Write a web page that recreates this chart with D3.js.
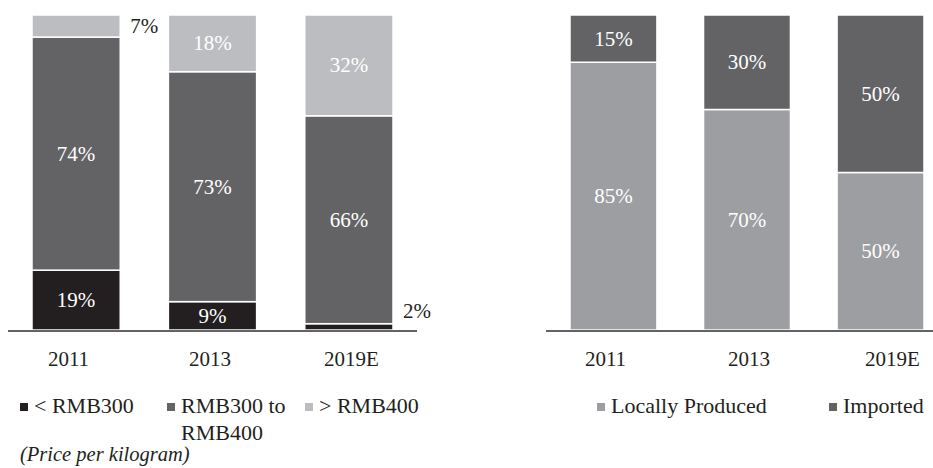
<!DOCTYPE html>
<html>
<head>
<meta charset="utf-8">
<script src="https://cdn.jsdelivr.net/npm/d3@7"></script>
<style>
	body { margin: 0; background: #ffffff; }
</style>
</head>
<body>
<svg id="chart" width="933" height="468"></svg>
<script>
// Left chart: price segments
var years = ["2011", "2013", "2019E"];
var priceKeys = ["< RMB300", "RMB300 to RMB400", "> RMB400"];
var priceLow = [19, 9, 2];
var priceMid = [74, 73, 66];
var priceHigh = [7, 18, 32];

// Right chart: origin
var originKeys = ["Locally Produced", "Imported"];
var originLocal = [85, 70, 50];
var originImported = [15, 30, 50];

var FONT = "'Liberation Serif', 'Times New Roman', serif";
var svg = d3.select("#chart");

function drawStack(opts) {
	var rows = years.map(function(yr, i) {
		var r = { year: yr };
		opts.keys.forEach(function(k, j) { r[k] = opts.values[j][i]; });
		return r;
	});
	var series = d3.stack().keys(opts.keys)(rows);

	var x = d3.scaleBand().domain(years).range(opts.xRange).paddingInner(opts.pad).paddingOuter(0);
	var y = d3.scaleLinear().domain([0, 100]).range([330, 15]);
	// category labels sit a little wider apart than the bars
	var xl = d3.scalePoint().domain(years).range(opts.labelRange);

	var g = svg.append("g");

	var layer = g.selectAll("g.layer")
		.data(series)
		.enter().append("g")
		.attr("fill", function(d, i) { return opts.colors[i]; });

	layer.selectAll("rect")
		.data(function(d) { return d; })
		.enter().append("rect")
		.attr("x", function(d) { return x(d.data.year); })
		.attr("width", x.bandwidth())
		.attr("y", function(d) { return y(d[1]); })
		.attr("height", function(d) { return y(d[0]) - y(d[1]); })
		.attr("stroke", "#ffffff")
		.attr("stroke-width", 1.5);

	// value labels, tiny ones go beside the bar
	series.forEach(function(s, i) {
		s.forEach(function(d) {
			var v = d[1] - d[0];
			var lbl = g.append("text")
				.style("font-family", FONT)
				.style("font-size", "21px")
				.text(v + "%");
			if (v < 8) {
				var top = i == opts.keys.length - 1;
				lbl.attr("x", x(d.data.year) + x.bandwidth() + 10)
					.attr("y", top ? y(d[1]) + 18 : y(d[1]) - 6)
					.attr("fill", "#231f20");
			} else {
				lbl.attr("x", x(d.data.year) + x.bandwidth() / 2)
					.attr("y", (y(d[0]) + y(d[1])) / 2 + 7)
					.attr("text-anchor", "middle")
					.attr("fill", "#ffffff");
			}
		});
	});

	// baseline
	g.append("line")
		.attr("x1", opts.axisRange[0]).attr("x2", opts.axisRange[1])
		.attr("y1", 331).attr("y2", 331)
		.attr("stroke", "#636366").attr("stroke-width", 2);

	var axis = d3.axisBottom(xl).tickSize(0).tickPadding(0);
	var ax = g.append("g").attr("transform", "translate(0,366)").call(axis);
	ax.select(".domain").remove();
	ax.selectAll("text")
		.style("font-family", FONT)
		.style("font-size", "21px")
		.attr("fill", "#231f20")
		.attr("dy", 0);
}

drawStack({
	keys: priceKeys,
	values: [priceLow, priceMid, priceHigh],
	colors: ["#231f20", "#636366", "#bcbdc0"],
	xRange: [32, 393],
	pad: 0.353,
	labelRange: [68, 351],
	axisRange: [8, 417]
});

drawStack({
	keys: originKeys,
	values: [originLocal, originImported],
	colors: ["#9d9ea1", "#636366"],
	xRange: [570, 924],
	pad: 0.349,
	labelRange: [605, 892],
	axisRange: [546, 933]
});

// legends
function legendItem(xp, yp, color, lines) {
	svg.append("rect").attr("x", xp).attr("y", yp - 10).attr("width", 8).attr("height", 8).attr("fill", color);
	lines.forEach(function(t, i) {
		svg.append("text")
			.attr("x", xp + 14).attr("y", yp + i * 27)
			.style("font-family", FONT)
			.style("font-size", "22px")
			.attr("fill", "#231f20")
			.text(t);
	});
}

legendItem(20, 413, "#231f20", ["< RMB300"]);
legendItem(167, 413, "#636366", ["RMB300 to", "RMB400"]);
legendItem(305, 413, "#bcbdc0", ["> RMB400"]);
legendItem(597, 413, "#9d9ea1", ["Locally Produced"]);
legendItem(829, 413, "#636366", ["Imported"]);

svg.append("text")
	.attr("x", 20).attr("y", 461)
	.style("font-family", FONT)
	.style("font-size", "20.5px")
	.style("font-style", "italic")
	.attr("fill", "#231f20")
	.text("(Price per kilogram)");
</script>
</body>
</html>
